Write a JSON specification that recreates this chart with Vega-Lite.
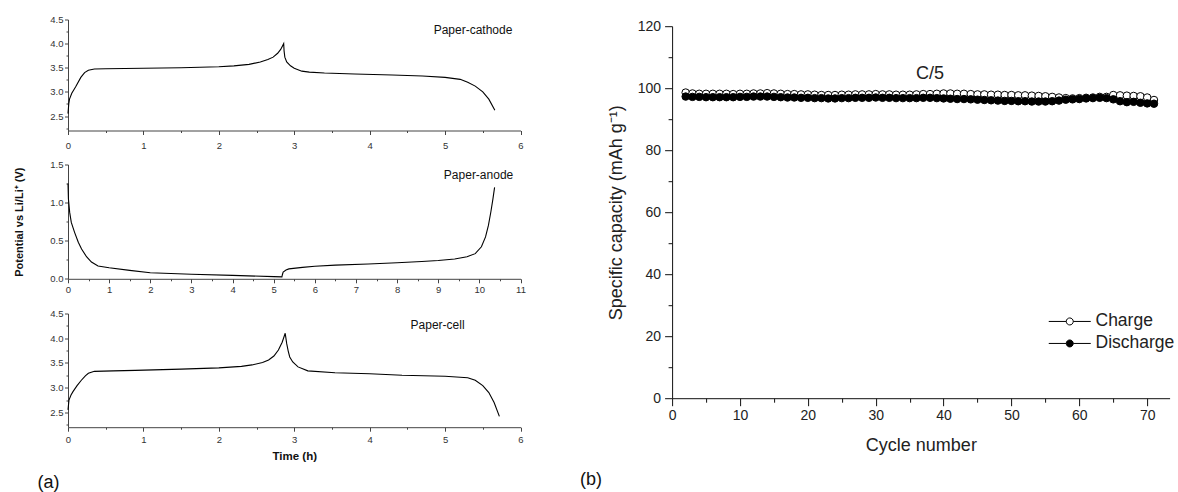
{
  "$schema": "https://vega.github.io/schema/vega-lite/v6.json",
  "autosize": {"type": "pad"},
  "padding": {"left": 13, "top": 14.5, "right": 0, "bottom": 0},
  "background": "white",
  "config": {
    "font": "Liberation Sans",
    "view": {"stroke": null},
    "axis": {"grid": false, "labelFont": "Liberation Sans", "titleFont": "Liberation Sans", "labelOverlap": false, "labelBound": false, "labelFlush": false, "tickCount": 200},
    "title": {"font": "Liberation Sans", "fontWeight": "normal", "color": "#111"},
    "legend": {"labelFont": "Liberation Sans"}
  },
  "datasets": {
    "cathode": [
      {"t": 0, "V": 2.55}, {"t": 0.01, "V": 2.75}, {"t": 0.02, "V": 2.85}, {"t": 0.05, "V": 2.97}, {"t": 0.1, "V": 3.1},
      {"t": 0.17, "V": 3.3}, {"t": 0.22, "V": 3.4}, {"t": 0.27, "V": 3.45}, {"t": 0.35, "V": 3.475}, {"t": 0.5, "V": 3.48},
      {"t": 1.0, "V": 3.49}, {"t": 1.5, "V": 3.5}, {"t": 2.0, "V": 3.52}, {"t": 2.2, "V": 3.54}, {"t": 2.4, "V": 3.57},
      {"t": 2.55, "V": 3.62}, {"t": 2.65, "V": 3.67}, {"t": 2.72, "V": 3.72}, {"t": 2.78, "V": 3.8}, {"t": 2.82, "V": 3.88},
      {"t": 2.86, "V": 4.0}, {"t": 2.865, "V": 3.85}, {"t": 2.875, "V": 3.72}, {"t": 2.9, "V": 3.62}, {"t": 2.95, "V": 3.54},
      {"t": 3.0, "V": 3.49}, {"t": 3.1, "V": 3.43}, {"t": 3.2, "V": 3.41}, {"t": 3.4, "V": 3.39}, {"t": 3.8, "V": 3.37},
      {"t": 4.3, "V": 3.35}, {"t": 4.7, "V": 3.33}, {"t": 5.0, "V": 3.3}, {"t": 5.2, "V": 3.26}, {"t": 5.3, "V": 3.2},
      {"t": 5.4, "V": 3.12}, {"t": 5.5, "V": 3.0}, {"t": 5.58, "V": 2.85}, {"t": 5.66, "V": 2.62}
    ],
    "anode": [
      {"t": 0, "V": 1.25}, {"t": 0.01, "V": 1.05}, {"t": 0.04, "V": 0.875}, {"t": 0.08, "V": 0.74}, {"t": 0.16, "V": 0.61},
      {"t": 0.25, "V": 0.48}, {"t": 0.33, "V": 0.39}, {"t": 0.45, "V": 0.29}, {"t": 0.57, "V": 0.22}, {"t": 0.73, "V": 0.167},
      {"t": 1.0, "V": 0.144}, {"t": 1.5, "V": 0.11}, {"t": 2.0, "V": 0.08}, {"t": 3.0, "V": 0.06}, {"t": 4.0, "V": 0.045},
      {"t": 5.0, "V": 0.028}, {"t": 5.2, "V": 0.025}, {"t": 5.21, "V": 0.05}, {"t": 5.23, "V": 0.088}, {"t": 5.3, "V": 0.115},
      {"t": 5.37, "V": 0.13}, {"t": 5.7, "V": 0.15}, {"t": 6.0, "V": 0.165}, {"t": 6.5, "V": 0.18}, {"t": 7.3, "V": 0.195},
      {"t": 8.0, "V": 0.21}, {"t": 8.6, "V": 0.227}, {"t": 9.0, "V": 0.24}, {"t": 9.4, "V": 0.26}, {"t": 9.7, "V": 0.29},
      {"t": 9.9, "V": 0.33}, {"t": 10.05, "V": 0.42}, {"t": 10.15, "V": 0.55}, {"t": 10.22, "V": 0.7}, {"t": 10.28, "V": 0.88},
      {"t": 10.33, "V": 1.05}, {"t": 10.37, "V": 1.2}
    ],
    "cell": [
      {"t": 0, "V": 2.55}, {"t": 0.013, "V": 2.75}, {"t": 0.04, "V": 2.85}, {"t": 0.066, "V": 2.92}, {"t": 0.12, "V": 3.04},
      {"t": 0.177, "V": 3.15}, {"t": 0.23, "V": 3.24}, {"t": 0.27, "V": 3.29}, {"t": 0.35, "V": 3.33}, {"t": 0.6, "V": 3.34},
      {"t": 0.89, "V": 3.35}, {"t": 1.5, "V": 3.375}, {"t": 2.0, "V": 3.4}, {"t": 2.3, "V": 3.43}, {"t": 2.44, "V": 3.46},
      {"t": 2.58, "V": 3.51}, {"t": 2.66, "V": 3.56}, {"t": 2.73, "V": 3.64}, {"t": 2.79, "V": 3.76}, {"t": 2.84, "V": 3.92},
      {"t": 2.88, "V": 4.1}, {"t": 2.9, "V": 3.89}, {"t": 2.92, "V": 3.74}, {"t": 2.94, "V": 3.62}, {"t": 2.98, "V": 3.52},
      {"t": 3.05, "V": 3.42}, {"t": 3.18, "V": 3.34}, {"t": 3.54, "V": 3.3}, {"t": 4.0, "V": 3.28}, {"t": 4.43, "V": 3.25},
      {"t": 5.0, "V": 3.23}, {"t": 5.3, "V": 3.2}, {"t": 5.4, "V": 3.15}, {"t": 5.5, "V": 3.04}, {"t": 5.58, "V": 2.9},
      {"t": 5.65, "V": 2.7}, {"t": 5.72, "V": 2.42}
    ],
    "labelsCathode": [{"t": 5.37, "V": 4.29, "label": "Paper-cathode"}],
    "labelsAnode": [{"t": 9.98, "V": 1.36, "label": "Paper-anode"}],
    "labelsCell": [{"t": 4.9, "V": 4.26, "label": "Paper-cell"}],
    "rate": [{"cycle": 38, "cap": 104.5, "label": "C/5"}],
    "capacity": [
      {"cycle": 2, "series": "Charge", "cap": 98.6}, {"cycle": 3, "series": "Charge", "cap": 98.3}, {"cycle": 4, "series": "Charge", "cap": 98.2},
      {"cycle": 5, "series": "Charge", "cap": 98.2}, {"cycle": 6, "series": "Charge", "cap": 98.2}, {"cycle": 7, "series": "Charge", "cap": 98.2},
      {"cycle": 8, "series": "Charge", "cap": 98.2}, {"cycle": 9, "series": "Charge", "cap": 98.1}, {"cycle": 10, "series": "Charge", "cap": 98.2},
      {"cycle": 11, "series": "Charge", "cap": 98.2}, {"cycle": 12, "series": "Charge", "cap": 98.3}, {"cycle": 13, "series": "Charge", "cap": 98.3},
      {"cycle": 14, "series": "Charge", "cap": 98.4}, {"cycle": 15, "series": "Charge", "cap": 98.3}, {"cycle": 16, "series": "Charge", "cap": 98.2},
      {"cycle": 17, "series": "Charge", "cap": 98.1}, {"cycle": 18, "series": "Charge", "cap": 98.1}, {"cycle": 19, "series": "Charge", "cap": 98.0},
      {"cycle": 20, "series": "Charge", "cap": 98.0}, {"cycle": 21, "series": "Charge", "cap": 97.9}, {"cycle": 22, "series": "Charge", "cap": 97.8},
      {"cycle": 23, "series": "Charge", "cap": 97.8}, {"cycle": 24, "series": "Charge", "cap": 97.8}, {"cycle": 25, "series": "Charge", "cap": 97.9},
      {"cycle": 26, "series": "Charge", "cap": 97.9}, {"cycle": 27, "series": "Charge", "cap": 98.0}, {"cycle": 28, "series": "Charge", "cap": 98.0},
      {"cycle": 29, "series": "Charge", "cap": 98.0}, {"cycle": 30, "series": "Charge", "cap": 98.1}, {"cycle": 31, "series": "Charge", "cap": 98.0},
      {"cycle": 32, "series": "Charge", "cap": 98.0}, {"cycle": 33, "series": "Charge", "cap": 97.9}, {"cycle": 34, "series": "Charge", "cap": 97.9},
      {"cycle": 35, "series": "Charge", "cap": 97.9}, {"cycle": 36, "series": "Charge", "cap": 98.0}, {"cycle": 37, "series": "Charge", "cap": 98.1},
      {"cycle": 38, "series": "Charge", "cap": 98.1}, {"cycle": 39, "series": "Charge", "cap": 98.2}, {"cycle": 40, "series": "Charge", "cap": 98.3},
      {"cycle": 41, "series": "Charge", "cap": 98.3}, {"cycle": 42, "series": "Charge", "cap": 98.2}, {"cycle": 43, "series": "Charge", "cap": 98.2},
      {"cycle": 44, "series": "Charge", "cap": 98.1}, {"cycle": 45, "series": "Charge", "cap": 98.0}, {"cycle": 46, "series": "Charge", "cap": 98.0},
      {"cycle": 47, "series": "Charge", "cap": 97.9}, {"cycle": 48, "series": "Charge", "cap": 97.9}, {"cycle": 49, "series": "Charge", "cap": 97.8},
      {"cycle": 50, "series": "Charge", "cap": 97.8}, {"cycle": 51, "series": "Charge", "cap": 97.7}, {"cycle": 52, "series": "Charge", "cap": 97.7},
      {"cycle": 53, "series": "Charge", "cap": 97.6}, {"cycle": 54, "series": "Charge", "cap": 97.5}, {"cycle": 55, "series": "Charge", "cap": 97.4},
      {"cycle": 56, "series": "Charge", "cap": 97.2}, {"cycle": 57, "series": "Charge", "cap": 97.0}, {"cycle": 58, "series": "Charge", "cap": 96.8},
      {"cycle": 59, "series": "Charge", "cap": 96.7}, {"cycle": 60, "series": "Charge", "cap": 96.8}, {"cycle": 61, "series": "Charge", "cap": 96.9},
      {"cycle": 62, "series": "Charge", "cap": 97.0}, {"cycle": 63, "series": "Charge", "cap": 97.2}, {"cycle": 64, "series": "Charge", "cap": 97.2},
      {"cycle": 65, "series": "Charge", "cap": 97.8}, {"cycle": 66, "series": "Charge", "cap": 97.7}, {"cycle": 67, "series": "Charge", "cap": 97.6},
      {"cycle": 68, "series": "Charge", "cap": 97.5}, {"cycle": 69, "series": "Charge", "cap": 97.4}, {"cycle": 70, "series": "Charge", "cap": 97.0},
      {"cycle": 71, "series": "Charge", "cap": 96.2},
      {"cycle": 2, "series": "Discharge", "cap": 97.3}, {"cycle": 3, "series": "Discharge", "cap": 97.2}, {"cycle": 4, "series": "Discharge", "cap": 97.2},
      {"cycle": 5, "series": "Discharge", "cap": 97.1}, {"cycle": 6, "series": "Discharge", "cap": 97.1}, {"cycle": 7, "series": "Discharge", "cap": 97.1},
      {"cycle": 8, "series": "Discharge", "cap": 97.1}, {"cycle": 9, "series": "Discharge", "cap": 97.1}, {"cycle": 10, "series": "Discharge", "cap": 97.2},
      {"cycle": 11, "series": "Discharge", "cap": 97.2}, {"cycle": 12, "series": "Discharge", "cap": 97.3}, {"cycle": 13, "series": "Discharge", "cap": 97.3},
      {"cycle": 14, "series": "Discharge", "cap": 97.3}, {"cycle": 15, "series": "Discharge", "cap": 97.2}, {"cycle": 16, "series": "Discharge", "cap": 97.1},
      {"cycle": 17, "series": "Discharge", "cap": 97.0}, {"cycle": 18, "series": "Discharge", "cap": 97.0}, {"cycle": 19, "series": "Discharge", "cap": 96.9},
      {"cycle": 20, "series": "Discharge", "cap": 96.9}, {"cycle": 21, "series": "Discharge", "cap": 96.8}, {"cycle": 22, "series": "Discharge", "cap": 96.8},
      {"cycle": 23, "series": "Discharge", "cap": 96.7}, {"cycle": 24, "series": "Discharge", "cap": 96.7}, {"cycle": 25, "series": "Discharge", "cap": 96.8},
      {"cycle": 26, "series": "Discharge", "cap": 96.8}, {"cycle": 27, "series": "Discharge", "cap": 96.9}, {"cycle": 28, "series": "Discharge", "cap": 96.9},
      {"cycle": 29, "series": "Discharge", "cap": 96.9}, {"cycle": 30, "series": "Discharge", "cap": 97.0}, {"cycle": 31, "series": "Discharge", "cap": 96.9},
      {"cycle": 32, "series": "Discharge", "cap": 96.9}, {"cycle": 33, "series": "Discharge", "cap": 96.8}, {"cycle": 34, "series": "Discharge", "cap": 96.8},
      {"cycle": 35, "series": "Discharge", "cap": 96.8}, {"cycle": 36, "series": "Discharge", "cap": 96.8}, {"cycle": 37, "series": "Discharge", "cap": 96.9},
      {"cycle": 38, "series": "Discharge", "cap": 96.9}, {"cycle": 39, "series": "Discharge", "cap": 96.8}, {"cycle": 40, "series": "Discharge", "cap": 96.7},
      {"cycle": 41, "series": "Discharge", "cap": 96.6}, {"cycle": 42, "series": "Discharge", "cap": 96.5}, {"cycle": 43, "series": "Discharge", "cap": 96.5},
      {"cycle": 44, "series": "Discharge", "cap": 96.4}, {"cycle": 45, "series": "Discharge", "cap": 96.3}, {"cycle": 46, "series": "Discharge", "cap": 96.2},
      {"cycle": 47, "series": "Discharge", "cap": 96.1}, {"cycle": 48, "series": "Discharge", "cap": 96.0}, {"cycle": 49, "series": "Discharge", "cap": 95.9},
      {"cycle": 50, "series": "Discharge", "cap": 95.9}, {"cycle": 51, "series": "Discharge", "cap": 95.8}, {"cycle": 52, "series": "Discharge", "cap": 95.8},
      {"cycle": 53, "series": "Discharge", "cap": 95.7}, {"cycle": 54, "series": "Discharge", "cap": 95.7}, {"cycle": 55, "series": "Discharge", "cap": 95.7},
      {"cycle": 56, "series": "Discharge", "cap": 95.8}, {"cycle": 57, "series": "Discharge", "cap": 96.0}, {"cycle": 58, "series": "Discharge", "cap": 96.3},
      {"cycle": 59, "series": "Discharge", "cap": 96.4}, {"cycle": 60, "series": "Discharge", "cap": 96.5}, {"cycle": 61, "series": "Discharge", "cap": 96.7},
      {"cycle": 62, "series": "Discharge", "cap": 96.8}, {"cycle": 63, "series": "Discharge", "cap": 96.9}, {"cycle": 64, "series": "Discharge", "cap": 96.8},
      {"cycle": 65, "series": "Discharge", "cap": 96.4}, {"cycle": 66, "series": "Discharge", "cap": 95.8}, {"cycle": 67, "series": "Discharge", "cap": 95.5},
      {"cycle": 68, "series": "Discharge", "cap": 95.6}, {"cycle": 69, "series": "Discharge", "cap": 95.3}, {"cycle": 70, "series": "Discharge", "cap": 95.1},
      {"cycle": 71, "series": "Discharge", "cap": 95.0}
    ]
  },
  "hconcat": [
    {
      "vconcat": [
        {
          "width": 452.5,
          "height": 111,
          "layer": [
            {
              "data": {"name": "cathode"},
              "mark": {"type": "line", "color": "#000", "strokeWidth": 1.1},
              "encoding": {
                "x": {"field": "t", "type": "quantitative", "scale": {"domain": [0, 6], "nice": false},
                  "axis": {"title": null, "values": [0, 0.5, 1, 1.5, 2, 2.5, 3, 3.5, 4, 4.5, 5, 5.5, 6], "tickCount": 200,
                    "labelExpr": "datum.value % 1 === 0 ? format(datum.value, 'd') : ''", "labelOverlap": false,
                    "tickSize": {"condition": {"test": "datum.value % 1 !== 0", "value": 2}, "value": 4},
                    "labelPadding": 6, "labelFontSize": 9.5, "labelColor": "#333", "domainColor": "#444", "tickColor": "#444"}},
                "y": {"field": "V", "type": "quantitative", "scale": {"domain": [2.2, 4.5], "nice": false, "zero": false},
                  "axis": {"title": null, "values": [2.25, 2.5, 2.75, 3, 3.25, 3.5, 3.75, 4, 4.25, 4.5], "tickCount": 200, "format": ".1f", "labelOverlap": false,
                    "labelOpacity": {"condition": {"test": "datum.value % 0.5 !== 0", "value": 0}, "value": 1},
                    "tickSize": {"condition": {"test": "datum.value % 0.5 !== 0", "value": 2}, "value": 3.5},
                    "labelPadding": 1.5, "labelFontSize": 9.5, "labelColor": "#333", "domainColor": "#444", "tickColor": "#444"}}
              }
            },
            {
              "data": {"name": "labelsCathode"},
              "mark": {"type": "text", "fontSize": 12, "color": "#111", "align": "center", "baseline": "middle"},
              "encoding": {"x": {"field": "t", "type": "quantitative"}, "y": {"field": "V", "type": "quantitative"}, "text": {"field": "label"}}
            }
          ]
        },
        {
          "width": 452.5,
          "height": 114.3,
          "layer": [
            {
              "data": {"name": "anode"},
              "mark": {"type": "line", "color": "#000", "strokeWidth": 1.1},
              "encoding": {
                "x": {"field": "t", "type": "quantitative", "scale": {"domain": [0, 11], "nice": false},
                  "axis": {"title": null, "values": [0, 0.5, 1, 1.5, 2, 2.5, 3, 3.5, 4, 4.5, 5, 5.5, 6, 6.5, 7, 7.5, 8, 8.5, 9, 9.5, 10, 10.5, 11], "tickCount": 200,
                    "labelExpr": "datum.value % 1 === 0 ? format(datum.value, 'd') : ''", "labelOverlap": false,
                    "tickSize": {"condition": {"test": "datum.value % 1 !== 0", "value": 2}, "value": 4},
                    "labelPadding": 1.5, "labelFontSize": 9.5, "labelColor": "#333", "domainColor": "#444", "tickColor": "#444"}},
                "y": {"field": "V", "type": "quantitative", "scale": {"domain": [0, 1.5], "nice": false},
                  "axis": {"title": "Potential vs Li/Li⁺ (V)", "values": [0, 0.25, 0.5, 0.75, 1, 1.25, 1.5], "tickCount": 200, "format": ".1f", "labelOverlap": false,
                    "labelOpacity": {"condition": {"test": "datum.value % 0.5 !== 0", "value": 0}, "value": 1},
                    "tickSize": {"condition": {"test": "datum.value % 0.5 !== 0", "value": 2}, "value": 3.5},
                    "labelPadding": 1.5, "labelFontSize": 9.5, "labelColor": "#333", "domainColor": "#444", "tickColor": "#444",
                    "titleFontSize": 11, "titleFontWeight": "bold", "titleColor": "#111", "titlePadding": 25}}
              }
            },
            {
              "data": {"name": "labelsAnode"},
              "mark": {"type": "text", "fontSize": 12, "color": "#111", "align": "center", "baseline": "middle"},
              "encoding": {"x": {"field": "t", "type": "quantitative"}, "y": {"field": "V", "type": "quantitative"}, "text": {"field": "label"}}
            }
          ]
        },
        {
          "width": 452.5,
          "height": 113.7,
          "title": {"text": "(a)", "orient": "bottom", "anchor": "start", "frame": "group", "dx": -30.5, "offset": 12, "fontSize": 18, "fontWeight": "normal", "color": "#111"},
          "layer": [
            {
              "data": {"name": "cell"},
              "mark": {"type": "line", "color": "#000", "strokeWidth": 1.1},
              "encoding": {
                "x": {"field": "t", "type": "quantitative", "scale": {"domain": [0, 6], "nice": false},
                  "axis": {"title": "Time (h)", "values": [0, 0.5, 1, 1.5, 2, 2.5, 3, 3.5, 4, 4.5, 5, 5.5, 6], "tickCount": 200,
                    "labelExpr": "datum.value % 1 === 0 ? format(datum.value, 'd') : ''", "labelOverlap": false,
                    "tickSize": {"condition": {"test": "datum.value % 1 !== 0", "value": 2}, "value": 4},
                    "labelPadding": 3.5, "labelFontSize": 9.5, "labelColor": "#333", "domainColor": "#444", "tickColor": "#444",
                    "titleFontSize": 11.5, "titleFontWeight": "bold", "titleColor": "#111", "titlePadding": 6}},
                "y": {"field": "V", "type": "quantitative", "scale": {"domain": [2.2, 4.5], "nice": false, "zero": false},
                  "axis": {"title": null, "values": [2.25, 2.5, 2.75, 3, 3.25, 3.5, 3.75, 4, 4.25, 4.5], "tickCount": 200, "format": ".1f", "labelOverlap": false,
                    "labelOpacity": {"condition": {"test": "datum.value % 0.5 !== 0", "value": 0}, "value": 1},
                    "tickSize": {"condition": {"test": "datum.value % 0.5 !== 0", "value": 2}, "value": 3.5},
                    "labelPadding": 1.5, "labelFontSize": 9.5, "labelColor": "#333", "domainColor": "#444", "tickColor": "#444"}}
              }
            },
            {
              "data": {"name": "labelsCell"},
              "mark": {"type": "text", "fontSize": 12, "color": "#111", "align": "center", "baseline": "middle"},
              "encoding": {"x": {"field": "t", "type": "quantitative"}, "y": {"field": "V", "type": "quantitative"}, "text": {"field": "label"}}
            }
          ]
        }
      ],
      "spacing": 34,
      "bounds": "flush"
    },
    {
      "vconcat": [
        {
          "width": 497.5,
          "height": 1,
          "data": {"values": [{"k": 1}]},
          "mark": {"type": "point", "opacity": 0, "size": 0, "strokeWidth": 0}
        },
        {
          "width": 497.5,
          "height": 372,
          "title": {"text": "(b)", "orient": "bottom", "anchor": "start", "frame": "group", "dx": -92, "offset": 16, "fontSize": 18, "fontWeight": "normal", "color": "#111"},
          "layer": [
            {
              "data": {"name": "capacity"},
              "mark": {"type": "line", "color": "#333", "strokeWidth": 1},
              "encoding": {
                "x": {"field": "cycle", "type": "quantitative", "scale": {"domain": [0, 73.3], "nice": false},
                  "axis": {"title": "Cycle number", "values": [0, 5, 10, 15, 20, 25, 30, 35, 40, 45, 50, 55, 60, 65, 70], "tickCount": 200,
                    "labelExpr": "datum.value % 10 === 0 ? format(datum.value, 'd') : ''", "labelOverlap": false,
                    "tickSize": {"condition": {"test": "datum.value % 10 !== 0", "value": 4}, "value": 7.5},
                    "labelPadding": 3, "labelFontSize": 14, "labelColor": "#222", "domainColor": "#111", "tickColor": "#111",
                    "titleFontSize": 18, "titleFontWeight": "normal", "titleColor": "#222", "titlePadding": 14}},
                "y": {"field": "cap", "type": "quantitative", "scale": {"domain": [0, 120], "nice": false},
                  "axis": {"title": "Specific capacity (mAh g⁻¹)", "values": [0, 10, 20, 30, 40, 50, 60, 70, 80, 90, 100, 110, 120], "tickCount": 200,
                    "labelExpr": "datum.value % 20 === 0 ? format(datum.value, 'd') : ''", "labelOverlap": false,
                    "tickSize": {"condition": {"test": "datum.value % 20 !== 0", "value": 4}, "value": 7.5},
                    "labelPadding": 4, "labelFontSize": 14, "labelColor": "#222", "domainColor": "#111", "tickColor": "#111",
                    "titleFontSize": 18, "titleFontWeight": "normal", "titleColor": "#222", "titlePadding": 12}},
                "detail": {"field": "series"}
              }
            },
            {
              "data": {"name": "capacity"},
              "mark": {"type": "point", "shape": "circle", "filled": true, "size": 56, "stroke": "#000", "strokeWidth": 1, "opacity": 1},
              "encoding": {
                "x": {"field": "cycle", "type": "quantitative"},
                "y": {"field": "cap", "type": "quantitative"},
                "fill": {"field": "series", "type": "nominal",
                  "scale": {"domain": ["Charge", "Discharge"], "range": ["#ffffff", "#000000"]},
                  "legend": {"title": null, "orient": "none", "legendX": 993, "legendY": 293.2,
                    "symbolType": "M-6,0L-1,0M1,0L6,0M-1,0A1,1,0,1,0,1,0A1,1,0,1,0,-1,0Z",
                    "symbolSize": 49, "symbolStrokeColor": "#000", "symbolStrokeWidth": 1,
                    "labelFontSize": 17.5, "labelColor": "#222", "labelOffset": 17, "rowPadding": 3}}
              }
            },
            {
              "data": {"name": "rate"},
              "mark": {"type": "text", "fontSize": 18, "color": "#222", "align": "center", "baseline": "middle"},
              "encoding": {"x": {"field": "cycle", "type": "quantitative"}, "y": {"field": "cap", "type": "quantitative"}, "text": {"field": "label"}}
            }
          ]
        }
      ],
      "spacing": 5.7,
      "bounds": "flush"
    }
  ],
  "spacing": 54.1
}
